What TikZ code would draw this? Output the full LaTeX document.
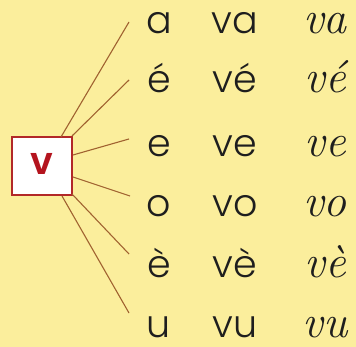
\documentclass[tikz,border=0pt]{standalone}
\usepackage{fontspec}
\newfontfamily\schoolfont{Poppins}[UprightFont=* Light, BoldFont=* SemiBold]
\definecolor{bg}{RGB}{251,238,156}
\definecolor{boxred}{RGB}{178,40,40}
\definecolor{vred}{RGB}{180,20,30}
\definecolor{linebrown}{RGB}{160,98,48}
\definecolor{ink}{RGB}{30,30,30}
\begin{document}
\begin{tikzpicture}[x=1pt,y=-1pt,
  print/.style={font=\schoolfont\fontsize{38}{38}\selectfont, text=ink, anchor=base, inner sep=0pt, text depth=0pt},
  cursive/.style={font=\fontsize{46}{46}\selectfont\itshape, text=ink, anchor=base, inner sep=0pt, text depth=0pt},
  link/.style={draw=linebrown, line width=1.1pt},
  vbox/.style={draw=boxred, fill=white, line width=1.2pt, minimum width=60pt, minimum height=58pt, inner sep=0pt}]
\fill[bg] (0,0) rectangle (356,347);
\useasboundingbox (0,0) rectangle (356,347);
\node[vbox] (box) at (42,166) {};
\node[font=\schoolfont\bfseries\fontsize{38}{38}\selectfont, text=vred, anchor=base, inner sep=0pt] (v) at (42,175) {v};
% row letters
\foreach \n/\l/\s/\c/\y in {1/a/va/va/34, 2/é/vé/vé/93, 3/e/ve/ve/157, 4/o/vo/vo/217, 5/è/vè/vè/278, 6/u/vu/vu/337}{
  \node[print] (p\n) at (159,\y) {\l};
  \node[print] (s\n) at (235,\y) {\s};
  \node[cursive] (c\n) at (325,\y) {\c};
}
\coordinate (a1) at (61,137);  \coordinate (b1) at (129,22);
\coordinate (a2) at (72,136);  \coordinate (b2) at (129,80);
\coordinate (a3) at (73,155);  \coordinate (b3) at (129,139);
\coordinate (a4) at (73,177);  \coordinate (b4) at (130,196);
\coordinate (a5) at (72,194);  \coordinate (b5) at (129,254);
\coordinate (a6) at (62,196);  \coordinate (b6) at (129,313);
\foreach \i in {1,...,6}{\draw[link] (a\i) -- (b\i);}
\end{tikzpicture}
\end{document}
